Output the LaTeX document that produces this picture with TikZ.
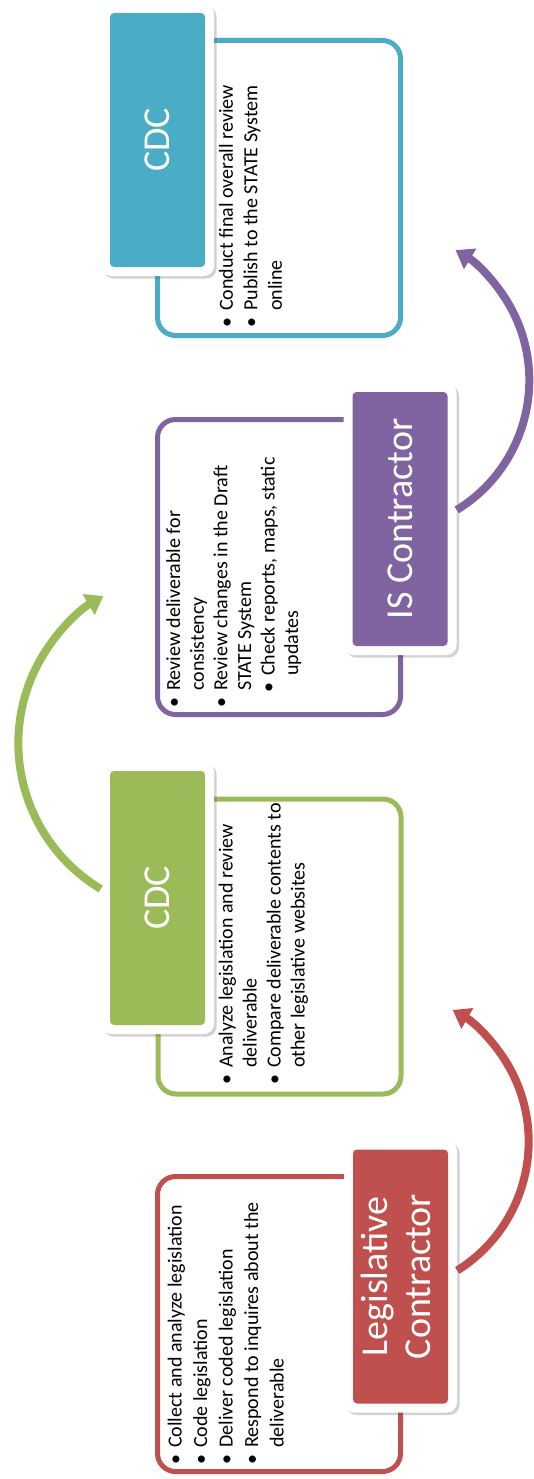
\documentclass[tikz,border=0pt]{standalone}
\usepackage{fontspec}
\setmainfont{Carlito}
\usepackage{graphicx}
\usetikzlibrary{arrows.meta,shadows}
\definecolor{cred}{HTML}{C0504D}
\definecolor{cgreen}{HTML}{9BBB59}
\definecolor{cpurple}{HTML}{8064A2}
\definecolor{cblue}{HTML}{4BACC6}
\newcommand\bi{\makebox[17pt][l]{\textbullet}}
\newcommand\ci{\hspace*{17pt}}
\begin{document}
\begin{tikzpicture}[x=1pt,y=-1pt,
  txtbox/.style={draw=#1, line width=5pt, rounded corners=18pt, fill=white,
    minimum width=243pt, minimum height=295pt, inner sep=0pt},
  labw/.style={fill=white, rounded corners=10pt, minimum width=113pt,
    minimum height=272pt, inner sep=0pt,
    drop shadow={shadow xshift=2.5pt, shadow yshift=-2.5pt, opacity=0.25, fill=black!70}},
  lab/.style={fill=#1, rounded corners=4pt, minimum width=95pt,
    minimum height=254pt, inner sep=0pt, text=white,
    font=\fontsize{38}{43}\selectfont},
  items/.style={rotate=90, anchor=north west, inner sep=0pt},
  arr/.style={draw=#1, line width=8pt, -{Triangle[width=23pt,length=17pt]}}
]
\useasboundingbox (0,0) rectangle (534,1479);
% text boxes
\node[txtbox=cblue] (b4) at (279,188) {};
\node[txtbox=cpurple] (b3) at (279,567) {};
\node[txtbox=cgreen] (b2) at (279.5,946.5) {};
\node[txtbox=cred] (b1) at (279,1324) {};
% texts
\node[items, font=\fontsize{20}{25.5}\selectfont] (t1) at (163.5,1465)
  {\begin{tabular}{@{}l@{}}\bi Collect and analyze legislation\\ \bi Code legislation\\ \bi Deliver coded legislation\\ \bi Respond to inquires about the\\ \ci deliverable\end{tabular}};
\node[items, font=\fontsize{20}{24}\selectfont] (t2) at (215.5,1085)
  {\begin{tabular}{@{}l@{}}\bi Analyze legislation and review\\ \ci deliverable\\ \bi Compare deliverable contents to\\ \ci other legislative websites\end{tabular}};
\node[items, font=\fontsize{20}{23.6}\selectfont] (t3) at (163.5,708)
  {\begin{tabular}{@{}l@{}}\bi Review deliverable for\\ \ci consistency\\ \bi Review changes in the Draft\\ \ci STATE System\\ \hspace*{15pt}\bi Check reports, maps, static\\ \hspace*{15pt}\ci updates\end{tabular}};
\node[items, font=\fontsize{20}{24.5}\selectfont] (t4) at (215.5,328)
  {\begin{tabular}{@{}l@{}}\bi Conduct final overall review\\ \bi Publish to the STATE System\\ \ci online\end{tabular}};
% labels
\node[labw] (w1) at (400.5,1276.5) {};
\node[lab=cred] (l1) at (400.5,1276.5) {\rotatebox{90}{\begin{tabular}{@{}c@{}}Legislative\\Contractor\end{tabular}}};
\node[labw] (w2) at (157.5,898) {};
\node[lab=cgreen] (l2) at (157.5,898) {\rotatebox{90}{CDC}};
\node[labw] (w3) at (400,519) {};
\node[lab=cpurple] (l3) at (400,519) {\rotatebox{90}{IS Contractor}};
\node[labw] (w4) at (157.5,140) {};
\node[lab=cblue] (l4) at (157.5,140) {\rotatebox{90}{CDC}};
% arrows
\draw[arr=cred] ([yshift=6pt]w1.east) arc[start angle=58, end angle=-60, radius=152];
\draw[arr=cgreen] ([yshift=9pt]w2.west) arc[start angle=121, end angle=240, radius=170];
\draw[arr=cpurple] ([yshift=9pt]w3.east) arc[start angle=58.5, end angle=-59, radius=152];
\end{tikzpicture}
\end{document}
